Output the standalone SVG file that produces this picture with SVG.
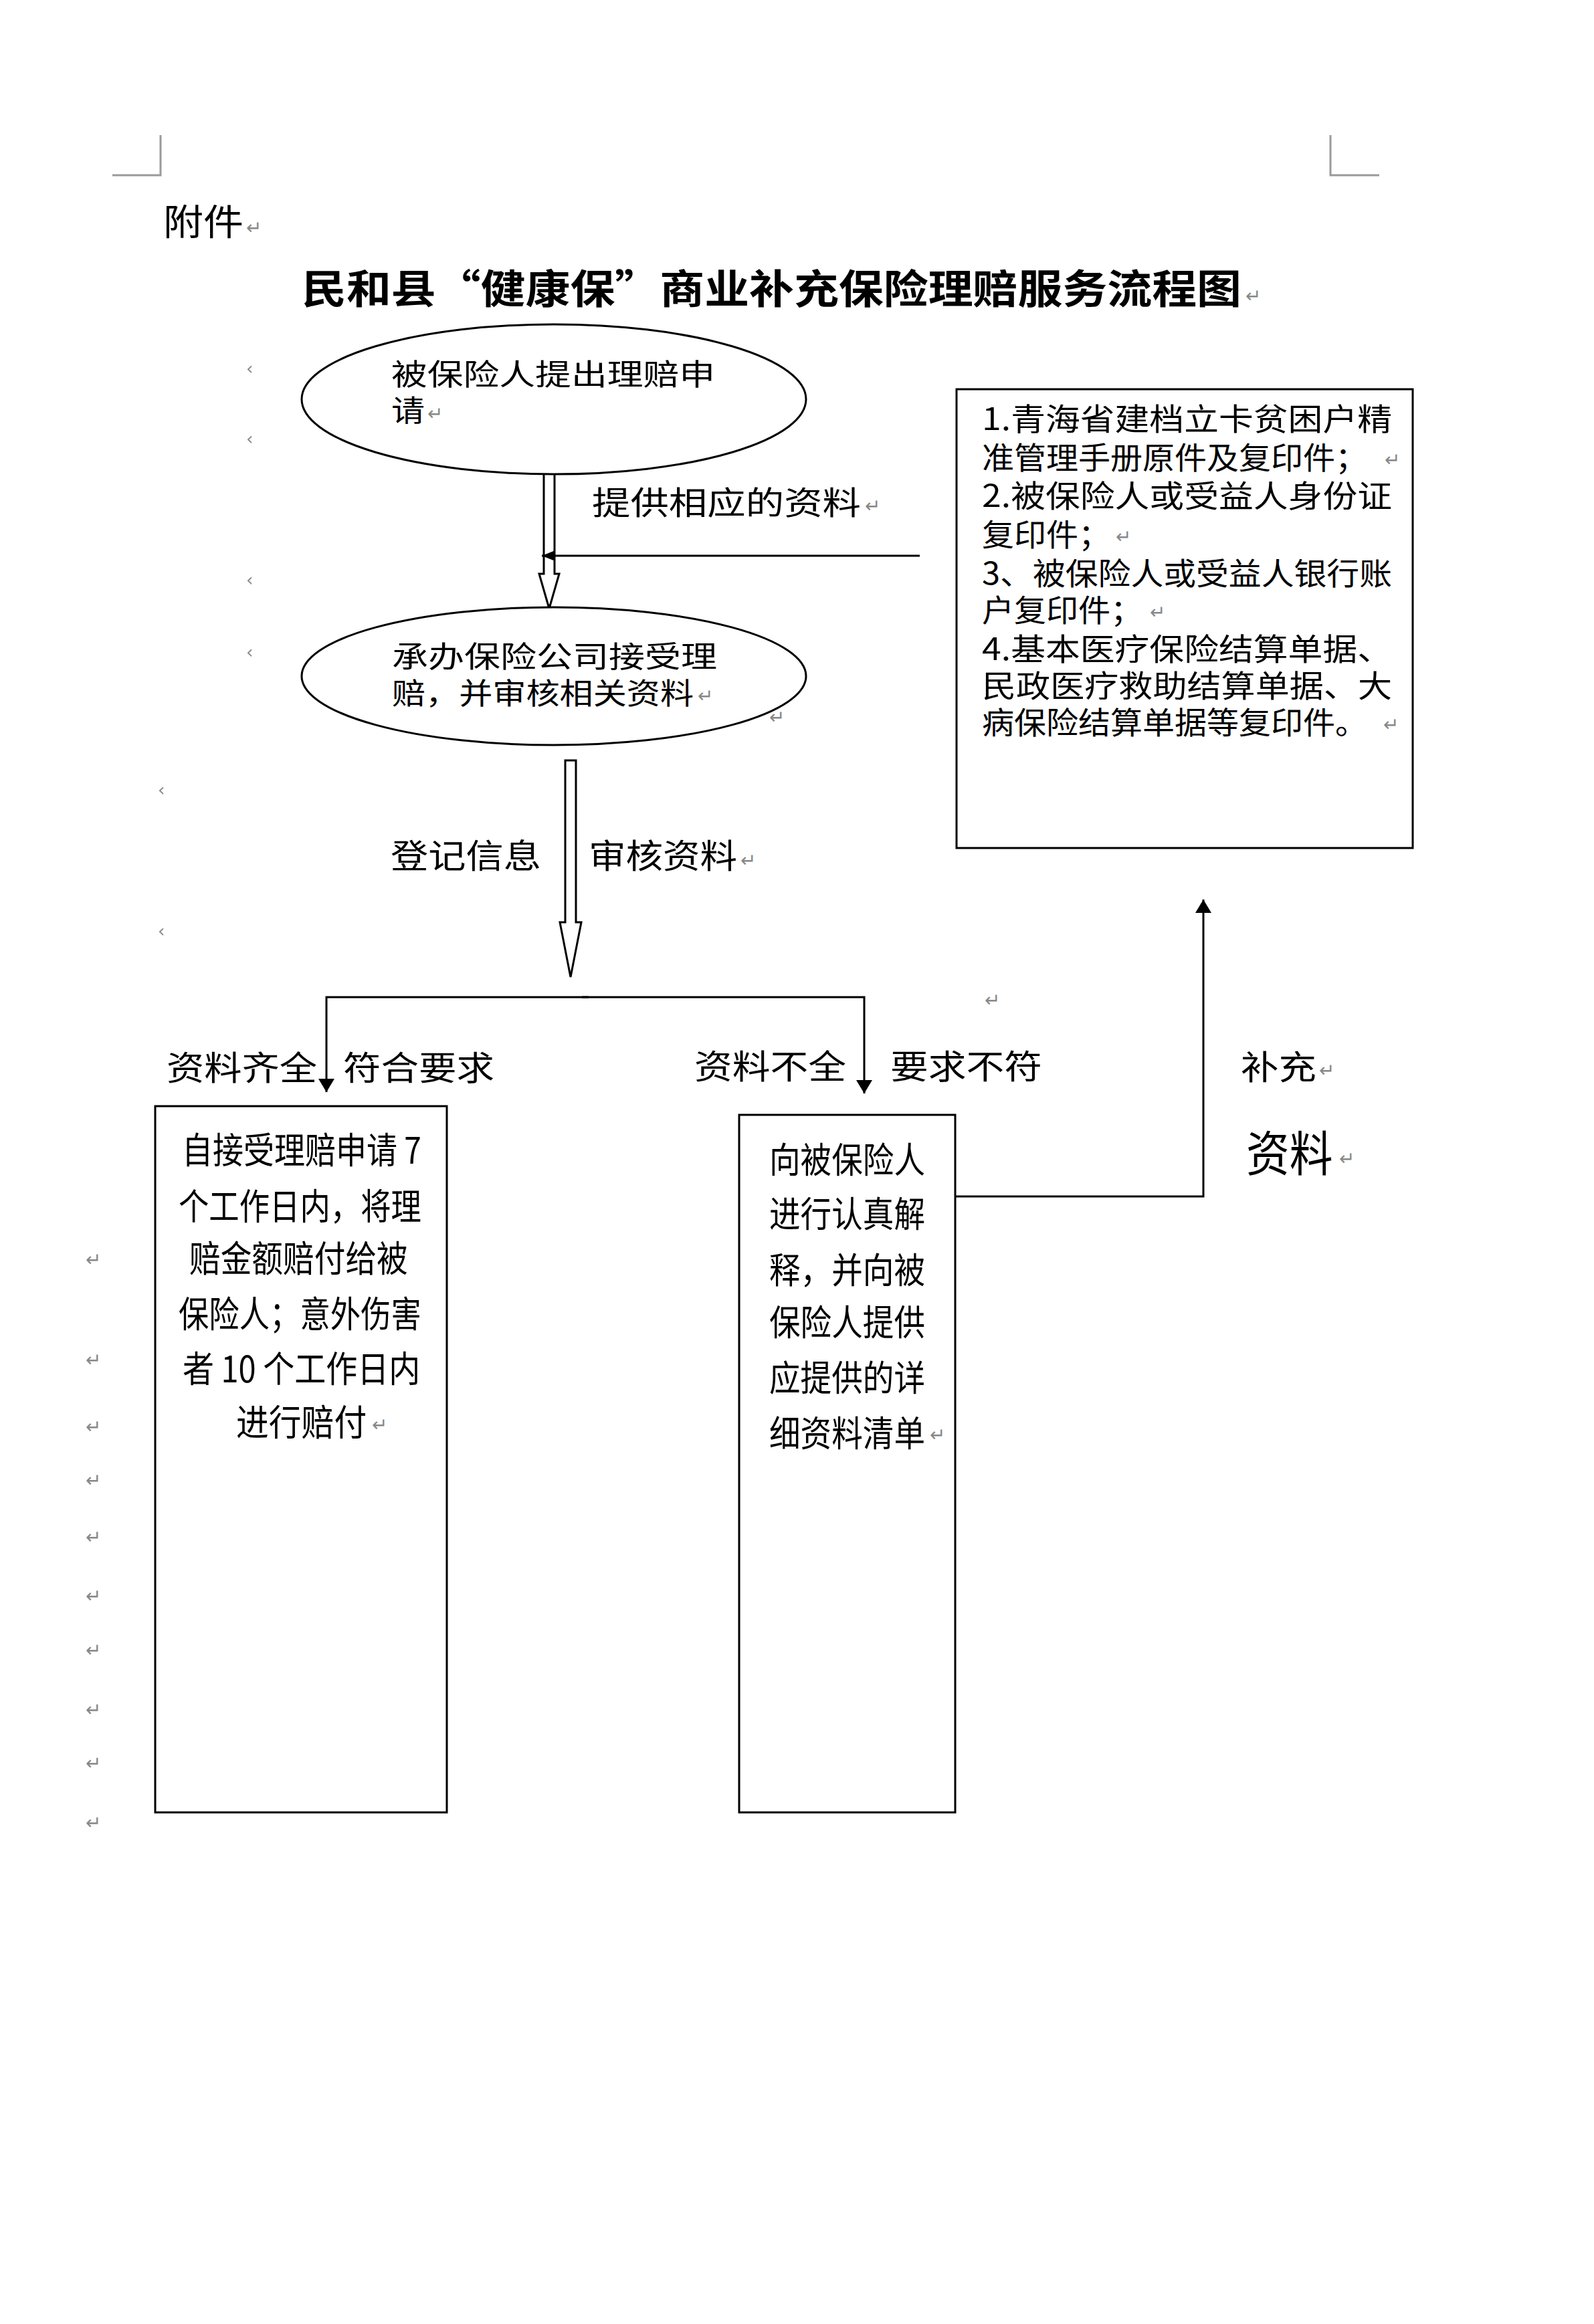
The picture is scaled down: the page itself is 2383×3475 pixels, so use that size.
<svg xmlns="http://www.w3.org/2000/svg" width="2383" height="3475" viewBox="0 0 2383 3475">
<style>
.t{font-family:"Noto Sans CJK SC","Noto Sans",sans-serif;fill:#000}
.pm{font-family:"DejaVu Sans",sans-serif;fill:#888;font-size:28px}
.tri{font-family:"DejaVu Sans",sans-serif;fill:#888;font-size:26px}
.shape{fill:#fff;stroke:#000;stroke-width:3}
.ln{fill:none;stroke:#000;stroke-width:3}
.crop{fill:none;stroke:#9a9a9a;stroke-width:3}
</style>
<defs>
<marker id="ah" viewBox="0 0 20 24" refX="20" refY="12" markerWidth="20" markerHeight="24" markerUnits="userSpaceOnUse" orient="auto"><path d="M0,0 L20,12 L0,24 z" fill="#000"/></marker>
<marker id="ahs" viewBox="0 0 20 16" refX="20" refY="8" markerWidth="20" markerHeight="16" markerUnits="userSpaceOnUse" orient="auto"><path d="M0,0 L20,8 L0,16 z" fill="#000"/></marker>
</defs>
<rect width="2383" height="3475" fill="#fff"/>
<g id="page-marks">
<path class="crop" d="M240,202 V262 H168"/>
<path class="crop" d="M1989,202 V262 H2062"/>
<text class="t" x="244" y="352" font-size="54" textLength="120" lengthAdjust="spacingAndGlyphs">附件</text>
<text class="pm" x="368" y="350">↵</text>
<text class="t" x="451" y="454" font-size="60" font-weight="bold" textLength="1405" lengthAdjust="spacingAndGlyphs">民和县“健康保”商业补充保险理赔服务流程图</text>
<text class="pm" x="1862" y="452">↵</text>
<text class="tri" x="368" y="560">‹</text>
<text class="tri" x="368" y="665">‹</text>
<text class="tri" x="368" y="876">‹</text>
<text class="tri" x="368" y="984">‹</text>
<text class="tri" x="236" y="1190">‹</text>
<text class="tri" x="236" y="1401">‹</text>
<text class="pm" x="128" y="1893">↵</text>
<text class="pm" x="128" y="2043">↵</text>
<text class="pm" x="128" y="2143">↵</text>
<text class="pm" x="128" y="2223">↵</text>
<text class="pm" x="128" y="2308">↵</text>
<text class="pm" x="128" y="2396">↵</text>
<text class="pm" x="128" y="2477">↵</text>
<text class="pm" x="128" y="2566">↵</text>
<text class="pm" x="128" y="2646">↵</text>
<text class="pm" x="128" y="2735">↵</text>
<text class="pm" x="1472" y="1505">↵</text>
</g>
<g id="connectors">
<polygon class="shape" points="813,705 829,705 829,858 836,858 821,910 806,858 813,858"/>
<polygon class="shape" points="845,1137 861,1137 861,1379 869,1379 853,1461 837,1379 845,1379"/>
<path class="ln" d="M1375,831 H810" marker-end="url(#ahs)"/>
<path class="ln" d="M880,1491 H488 V1633" marker-end="url(#ah)"/>
<path class="ln" d="M870,1491 H1292 V1635" marker-end="url(#ah)"/>
<path class="ln" d="M1428,1789 H1799 V1345" marker-end="url(#ah)"/>
</g>
<g id="labels">
<text class="t" x="885" y="769" font-size="48" textLength="402" lengthAdjust="spacingAndGlyphs">提供相应的资料</text>
<text class="pm" x="1293" y="766">↵</text>
<text class="t" x="584" y="1298" font-size="50" textLength="225" lengthAdjust="spacingAndGlyphs">登记信息</text>
<text class="t" x="880" y="1298" font-size="50" textLength="222" lengthAdjust="spacingAndGlyphs">审核资料</text>
<text class="pm" x="1107" y="1296">↵</text>
<text class="t" x="249" y="1615" font-size="50" textLength="225" lengthAdjust="spacingAndGlyphs">资料齐全</text>
<text class="t" x="513" y="1615" font-size="50" textLength="226" lengthAdjust="spacingAndGlyphs">符合要求</text>
<text class="t" x="1038" y="1613" font-size="50" textLength="227" lengthAdjust="spacingAndGlyphs">资料不全</text>
<text class="t" x="1331" y="1613" font-size="50" textLength="227" lengthAdjust="spacingAndGlyphs">要求不符</text>
<text class="t" x="1855" y="1614" font-size="50" textLength="113" lengthAdjust="spacingAndGlyphs">补充</text>
<text class="pm" x="1972" y="1610">↵</text>
<text class="t" transform="translate(1863,1751) scale(0.9,1)" x="0" y="0" font-size="72" textLength="144" lengthAdjust="spacingAndGlyphs">资料</text>
<text class="pm" x="2002" y="1742" font-size="32">↵</text>
</g>
<g id="node-apply">
<ellipse class="shape" cx="828" cy="597" rx="377" ry="112"/>
<text class="t" x="585" y="576" font-size="44" textLength="484" lengthAdjust="spacingAndGlyphs">被保险人提出理赔申</text>
<text class="t" x="585" y="630" font-size="44" textLength="50" lengthAdjust="spacingAndGlyphs">请</text>
<text class="pm" x="639" y="628" font-size="22">↵</text>
</g>
<g id="node-accept">
<ellipse class="shape" cx="828" cy="1011" rx="377" ry="103"/>
<text class="t" x="586" y="998" font-size="44" textLength="486" lengthAdjust="spacingAndGlyphs">承办保险公司接受理</text>
<text class="t" x="586" y="1053" font-size="44" textLength="451" lengthAdjust="spacingAndGlyphs">赔，并审核相关资料</text>
<text class="pm" x="1043" y="1050" font-size="24">↵</text>
<text class="pm" x="1150" y="1082" font-size="22">↵</text>
</g>
<g id="node-materials">
<rect class="shape" x="1430" y="582" width="682" height="686" stroke-width="3"/>
<g font-size="46">
<text class="t" x="1468" y="643" textLength="613" lengthAdjust="spacingAndGlyphs">1.青海省建档立卡贫困户精</text>
<text class="t" x="1468" y="701" textLength="576" lengthAdjust="spacingAndGlyphs">准管理手册原件及复印件；</text>
<text class="t" x="1468" y="758" textLength="613" lengthAdjust="spacingAndGlyphs">2.被保险人或受益人身份证</text>
<text class="t" x="1468" y="816" textLength="192" lengthAdjust="spacingAndGlyphs">复印件；</text>
<text class="t" x="1468" y="874" textLength="613" lengthAdjust="spacingAndGlyphs">3、被保险人或受益人银行账</text>
<text class="t" x="1468" y="929" textLength="240" lengthAdjust="spacingAndGlyphs">户复印件；</text>
<text class="t" x="1468" y="987" textLength="613" lengthAdjust="spacingAndGlyphs">4.基本医疗保险结算单据、</text>
<text class="t" x="1468" y="1042" textLength="613" lengthAdjust="spacingAndGlyphs">民政医疗救助结算单据、大</text>
<text class="t" x="1468" y="1097" textLength="576" lengthAdjust="spacingAndGlyphs">病保险结算单据等复印件。</text>
</g>
<text class="pm" x="2070" y="697">↵</text>
<text class="pm" x="1668" y="812">↵</text>
<text class="pm" x="1719" y="925">↵</text>
<text class="pm" x="2068" y="1093">↵</text>
</g>
<g id="node-pay">
<rect class="shape" x="232" y="1654" width="436" height="1056" stroke-width="3.5"/>
<g font-size="54">
<text class="t" transform="translate(272,1740) scale(0.86,1)" textLength="416" lengthAdjust="spacingAndGlyphs">自接受理赔申请 7</text>
<text class="t" transform="translate(267,1824) scale(0.86,1)" textLength="422" lengthAdjust="spacingAndGlyphs">个工作日内，将理</text>
<text class="t" transform="translate(283,1902) scale(0.86,1)" textLength="380" lengthAdjust="spacingAndGlyphs">赔金额赔付给被</text>
<text class="t" transform="translate(267,1985) scale(0.86,1)" textLength="422" lengthAdjust="spacingAndGlyphs">保险人；意外伤害</text>
<text class="t" transform="translate(273,2067) scale(0.86,1)" textLength="413" lengthAdjust="spacingAndGlyphs">者 10 个工作日内</text>
<text class="t" transform="translate(353,2147) scale(0.86,1)" textLength="227" lengthAdjust="spacingAndGlyphs">进行赔付</text>
</g>
<text class="pm" x="556" y="2140" font-size="24">↵</text>
</g>
<g id="node-explain">
<rect class="shape" x="1105" y="1667" width="323" height="1043" stroke-width="3.5"/>
<g font-size="54">
<text class="t" transform="translate(1150,1754) scale(0.863,1)" textLength="270" lengthAdjust="spacingAndGlyphs">向被保险人</text>
<text class="t" transform="translate(1150,1835) scale(0.863,1)" textLength="270" lengthAdjust="spacingAndGlyphs">进行认真解</text>
<text class="t" transform="translate(1150,1919) scale(0.863,1)" textLength="270" lengthAdjust="spacingAndGlyphs">释，并向被</text>
<text class="t" transform="translate(1150,1997) scale(0.863,1)" textLength="270" lengthAdjust="spacingAndGlyphs">保险人提供</text>
<text class="t" transform="translate(1150,2080) scale(0.863,1)" textLength="270" lengthAdjust="spacingAndGlyphs">应提供的详</text>
<text class="t" transform="translate(1150,2163) scale(0.863,1)" textLength="270" lengthAdjust="spacingAndGlyphs">细资料清单</text>
</g>
<text class="pm" x="1390" y="2155" font-size="24">↵</text>
</g>
</svg>
